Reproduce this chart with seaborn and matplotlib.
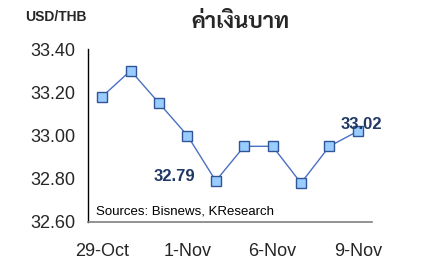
import numpy as np
import pandas as pd
import matplotlib
matplotlib.use("Agg")
import matplotlib.pyplot as plt
import seaborn as sns
from matplotlib import font_manager

# ---- data ----
dates = ["29-Oct", "30-Oct", "31-Oct", "1-Nov", "2-Nov", "5-Nov", "6-Nov", "7-Nov", "8-Nov", "9-Nov"]
rates = [33.18, 33.30, 33.15, 33.00, 32.79, 32.95, 32.95, 32.78, 32.95, 33.02]
tick_labels = ["29-Oct", "1-Nov", "6-Nov", "9-Nov"]
y_ticks = [32.60, 32.80, 33.00, 33.20, 33.40]
title = "ค่าเงินบาท"
unit = "USD/THB"
source = "Sources: Bisnews, KResearch"
annot_idx = [4, 9]

sns.set_theme(style="white")
plt.rcParams['font.family'] = ['Liberation Sans', 'DejaVu Sans', 'Noto Sans']

# pick an installed Thai family (prefer ones with a bold face)
avail = {f.name for f in font_manager.fontManager.ttflist}
thai_fams = [f for f in ['Sarabun', 'Noto Sans Thai', 'Noto Sans Thai Looped', 'Tlwg Typo', 'Loma',
                         'Bai Jamjuree', 'Athiti'] if f in avail]

df = pd.DataFrame({"pos": np.arange(len(dates)), "rate": rates, "date": dates})

fig = plt.figure(figsize=(4.36, 2.8), dpi=100)
ax = fig.add_axes([88/436, 1-222/280, (372-88)/436, (222-49)/280])

sns.lineplot(data=df, x="pos", y="rate", ax=ax, color="#4a70c4", linewidth=1.0,
             marker="s", markersize=7, markerfacecolor="#99ccff",
             markeredgecolor="#2f5597", markeredgewidth=1.0)

ax.set_xlim(-0.5, len(dates) - 0.5)
ax.set_ylim(y_ticks[0], y_ticks[-1])
ax.set_yticks(y_ticks)
ax.set_yticklabels([f"{v:.2f}" for v in y_ticks], fontsize=13)
tick_pos = [dates.index(t) for t in tick_labels]
ax.set_xticks(tick_pos)
ax.set_xticklabels(tick_labels, fontsize=13)
ax.set_xticks([-0.5, 3.5, 7.5], minor=True)
ax.tick_params(axis="x", which="major", length=0, pad=15)
ax.tick_params(axis="x", which="minor", length=4, width=1, color="#808080", direction="out")
ax.tick_params(axis="y", length=5, width=1, color="#404040", direction="out", pad=4)
ax.set_xlabel("")
ax.set_ylabel("")

for s in ["top", "right"]:
    ax.spines[s].set_visible(False)
ax.spines["left"].set_color("#000000")
ax.spines["left"].set_linewidth(1.0)
ax.spines["bottom"].set_color("#808080")
ax.spines["bottom"].set_linewidth(1.2)

# annotations
offsets = {4: (-41, 4), 9: (4, 7)}
for i in annot_idx:
    ax.annotate(f"{rates[i]:.2f}", (i, rates[i]), xytext=offsets[i], textcoords="offset pixels",
                ha="center", va="center", fontsize=12, fontweight="bold", color="#1f3864")

ax.text(96/436, 1-212/280, source, transform=fig.transFigure, fontsize=9.5,
        ha="left", va="center", color="#000000")
fig.text(25/436, 1-17/280, unit, fontsize=10, fontweight="bold", ha="left", va="center")
fig.text(240/436, 1-22/280, title, fontsize=16, fontweight="bold", ha="center", va="center",
         family=thai_fams + ['DejaVu Sans'])

fig.savefig("out.png", dpi=100)
